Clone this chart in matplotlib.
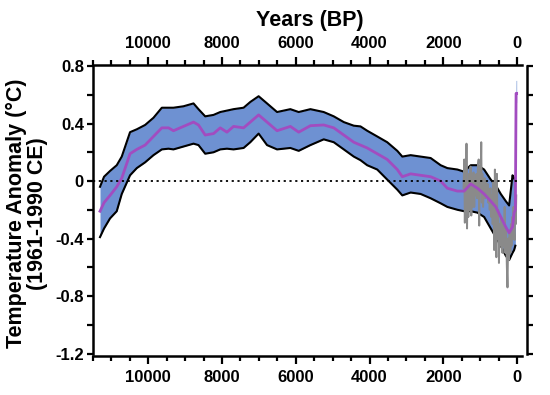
import matplotlib
matplotlib.use("Agg")
import matplotlib.pyplot as plt
from matplotlib.ticker import MultipleLocator, FuncFormatter

plt.rcParams['font.family'] = ['Liberation Sans', 'DejaVu Sans']
plt.rcParams['font.weight'] = 'bold'
plt.rcParams['axes.unicode_minus'] = False

# ---- data (years BP, temperature anomaly in degC) ----
years = [11310, 11200, 11038, 10856, 10720, 10495, 10312, 10087, 9860, 9633,
         9453, 9318, 9046, 8774, 8639, 8457, 8231, 8049, 7867, 7688,
         7416, 7234, 7008, 6780, 6508, 6147, 5921, 5603, 5242, 4970,
         4698, 4427, 4245, 4064, 3791, 3520, 3247, 3111, 2885, 2614,
         2342, 2071, 1890, 1617, 1436, 1255, 1073, 892, 712, 576,
         440, 304, 214, 122, 78, 45, 25, 10]
mean = [-0.21, -0.15, -0.10, -0.04, 0.02, 0.19, 0.22, 0.25, 0.31, 0.37,
        0.37, 0.35, 0.38, 0.41, 0.39, 0.32, 0.33, 0.37, 0.34, 0.38,
        0.37, 0.41, 0.46, 0.41, 0.35, 0.38, 0.34, 0.385, 0.39, 0.37,
        0.32, 0.27, 0.25, 0.23, 0.19, 0.15, 0.08, 0.03, 0.05, 0.04,
        0.03, 0.00, -0.05, -0.07, -0.07, -0.02, -0.05, -0.09, -0.14, -0.18,
        -0.25, -0.32, -0.36, -0.32, -0.22, -0.20, 0.61, 0.61]
upper = [-0.04, 0.03, 0.07, 0.11, 0.17, 0.34, 0.36, 0.39, 0.44, 0.51,
         0.51, 0.51, 0.52, 0.54, 0.50, 0.45, 0.46, 0.48, 0.49, 0.50,
         0.51, 0.55, 0.59, 0.54, 0.48, 0.50, 0.48, 0.50, 0.48, 0.45,
         0.41, 0.385, 0.38, 0.35, 0.31, 0.27, 0.21, 0.17, 0.18, 0.17,
         0.16, 0.11, 0.09, 0.08, 0.065, 0.11, 0.11, 0.08, 0.01, -0.03,
         -0.09, -0.14, -0.17, 0.04, 0.02, 0.00, 0.70, 0.70]
lower = [-0.39, -0.33, -0.26, -0.21, -0.09, 0.04, 0.09, 0.13, 0.18, 0.22,
         0.225, 0.22, 0.24, 0.26, 0.25, 0.19, 0.20, 0.22, 0.225, 0.22,
         0.23, 0.27, 0.33, 0.25, 0.22, 0.23, 0.21, 0.25, 0.29, 0.27,
         0.22, 0.17, 0.145, 0.11, 0.08, 0.01, -0.06, -0.10, -0.08, -0.09,
         -0.12, -0.155, -0.18, -0.20, -0.21, -0.21, -0.22, -0.25, -0.33, -0.39,
         -0.45, -0.52, -0.55, -0.50, -0.48, -0.45, 0.52, 0.55]

# high-resolution (noisy) reconstruction, last ~1500 years
gray_years = [1450, 1430, 1415, 1400, 1385, 1370, 1355, 1340, 1320, 1300,
              1280, 1260, 1240, 1220, 1200, 1180, 1160, 1140, 1120, 1100,
              1080, 1060, 1040, 1025, 1010, 990, 970, 955, 940, 920,
              900, 880, 860, 840, 820, 800, 780, 760, 740, 720,
              700, 680, 660, 640, 620, 600, 580, 560, 545, 530,
              510, 490, 470, 450, 430, 410, 395, 375, 355, 335,
              315, 295, 275, 258, 240, 220, 200, 180, 165, 150,
              130, 110, 95, 80, 65, 50, 35, 20]
gray_vals = [-0.05, 0.15, -0.29, 0.05, -0.20, 0.26, -0.33, 0.00, -0.25, 0.05,
             -0.20, 0.10, -0.24, 0.02, -0.18, 0.06, -0.18, 0.00, -0.10, 0.05,
             -0.12, 0.10, 0.15, -0.31, 0.10, -0.05, 0.27, -0.15, 0.05, -0.18,
             -0.05, 0.02, -0.12, 0.00, -0.10, -0.02, -0.15, -0.06, -0.20, -0.05,
             -0.25, -0.10, -0.30, 0.00, -0.48, 0.08, -0.35, -0.53, 0.05, -0.40,
             -0.20, -0.57, -0.30, -0.45, -0.25, -0.40, -0.50, -0.30, -0.45, -0.18,
             -0.50, -0.35, -0.60, -0.74, -0.40, -0.55, -0.35, -0.50, -0.30, -0.45,
             -0.25, -0.40, -0.18, -0.35, -0.41, -0.20, -0.30, -0.10]

x_start, x_end = 11500, 0
y_ticks_major = 0.4
y_ticks_minor = 0.2
n_edge = len(years) - 2   # band outlines stop before the modern uptick

band_color = '#6e91d2'
purple = '#a24cc0'

fig = plt.figure(figsize=(5.5, 3.95), dpi=100)
ax = fig.add_axes([93 / 550, 1 - 356.4 / 395, 434 / 550, 291.8 / 395])
ax.set_xlim(11500, -271)
ax.set_ylim(-1.22, 0.81)

ax.fill_between(years, lower, upper, color=band_color, lw=0, zorder=1)
ax.plot(years[:n_edge], upper[:n_edge], color='black', lw=1.5, zorder=2)
ax.plot(years[:n_edge], lower[:n_edge], color='black', lw=1.5, zorder=2)
ax.plot(gray_years, gray_vals, color='#8a8a8a', lw=1.4, zorder=3)
ax.plot(years, mean, color=purple, lw=2.0, zorder=4)
ax.hlines(0, x_start, x_end, colors='black', linestyles=(0, (1.2, 2.0)), lw=1.3, zorder=5)

# spines
for s in ['left', 'right', 'top', 'bottom']:
    ax.spines[s].set_linewidth(1.8)
ax.spines['left'].set_bounds(-1.2, 0.8)
ax.spines['right'].set_bounds(-1.2, 0.8)
ax.spines['top'].set_bounds(11500, -130)
ax.spines['bottom'].set_bounds(11500, -130)

# x ticks
ax.xaxis.set_major_locator(MultipleLocator(2000))
ax.xaxis.set_minor_locator(MultipleLocator(500))
ax.tick_params(axis='x', which='both', top=True, bottom=True, labeltop=True,
               labelbottom=True, direction='out', width=1.6)
ax.tick_params(axis='x', which='major', length=6, labelsize=12, pad=4)
ax.tick_params(axis='x', which='minor', length=3.5)
ax.xaxis.set_major_formatter(FuncFormatter(lambda v, p: f'{v:.0f}'))

# y ticks
ax.yaxis.set_major_locator(MultipleLocator(y_ticks_major))
ax.yaxis.set_minor_locator(MultipleLocator(y_ticks_minor))
ax.tick_params(axis='y', which='both', left=True, right=True, labelleft=True,
               labelright=False, direction='out', width=1.6, length=4.5)
ax.tick_params(axis='y', which='major', labelsize=12, pad=2)
ax.yaxis.set_major_formatter(FuncFormatter(lambda v, p: f'{round(v, 1):g}'))

ax.xaxis.set_label_position('top')
ax.set_xlabel('Years (BP)', fontsize=15.5, fontweight='bold', labelpad=7)
ax.set_ylabel('Temperature Anomaly (°C)\n(1961-1990 CE)', fontsize=15.5,
              fontweight='bold', linespacing=1.0)
ax.yaxis.label.set_va('center')
ax.yaxis.set_label_coords(-0.152, 0.49)

fig.savefig('out.png', dpi=100)
